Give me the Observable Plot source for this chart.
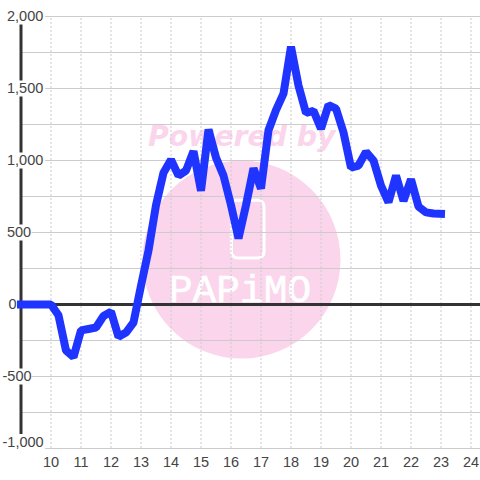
<!DOCTYPE html>
<html><head><meta charset="utf-8">
<style>html,body{margin:0;padding:0;background:#fff}svg{display:block}</style>
<script src="https://cdn.jsdelivr.net/npm/d3@7"></script>
<script src="https://cdn.jsdelivr.net/npm/@observablehq/plot@0.6"></script>
</head><body><div id="c"></div><script>
const hours=[9,9.25,9.5,9.75,10,10.25,10.5,10.75,11,11.25,11.5,11.75,12,12.25,12.5,12.75,13,13.25,13.5,13.75,14,14.25,14.5,14.75,15,15.25,15.5,15.75,16,16.25,16.5,16.75,17,17.25,17.5,17.75,18,18.25,18.5,18.75,19,19.25,19.5,19.75,20,20.25,20.5,20.75,21,21.25,21.5,21.75,22,22.25,22.5,22.75,23];
const values=[0,0,0,0,0,-75,-320,-365,-180,-170,-160,-80,-50,-225,-195,-125,130,375,690,915,1005,895,930,1065,790,1215,1020,895,690,460,690,945,805,1210,1350,1465,1790,1520,1330,1345,1220,1385,1360,1195,950,965,1060,1000,825,710,895,720,870,680,640,632,630];
const series=hours.map((h,i)=>({h,v:values[i]}));
const xTicks=[10,11,12,13,14,15,16,17,18,19,20,21,22,23,24];
const yLabelAt=[2000,1500,1000,500,0,-500,-955];
const yMajorText=["2,000","1,500","1,000","500","0","-500","-1,000"];
const yMajorStart=[8.533,8.533,8.533,8.533,8.583,8.383,8.383];
const yMajorEnd=[9.82,9.82,9.82,9.37,8.9,9.37,9.82];
const yGrid=[2000,1750,1500,1250,1000,750,500,250,-250,-500,-750,-1000];
const xLeft=8.3167, xRight=24.3167;
const labels=yLabelAt.map((y,i)=>({y,t:yMajorText[i],s:yMajorStart[i],e:yMajorEnd[i]}));
const circleAt=[{h:16.35,v:312}];
const phone=[{a:16.03,b:17.12,c:320,d:720}];
const pink="#fbd5ec", grey="#cccccc", dark="#333333", blue="#1f35ff";
const plot=Plot.plot({
  width:480,height:480,marginTop:16,marginBottom:32,marginLeft:20.5,marginRight:0,
  style:{background:"#fff",fontFamily:"'Liberation Sans',Arial,sans-serif"},
  x:{domain:[9,xRight],axis:null},y:{domain:[-1000,2000],axis:null},
  marks:[
    Plot.dot(circleAt,{x:"h",y:"v",r:99,fill:pink,stroke:"none"}),
    Plot.text(["Powered by"],{x:[16.36],y:[1165],text:d=>d,fill:pink,fontSize:28.3,fontWeight:"bold",fontStyle:"italic",fontFamily:"'DejaVu Sans'",stroke:"none"}),
    Plot.rect(phone,{x1:"a",x2:"b",y1:"c",y2:"d",fill:"none",stroke:"#fff",strokeWidth:3,rx:6}),
    Plot.text(["PAPiMO"],{x:[16.3],y:[104],text:d=>d,fill:"#fff",stroke:"#fff",strokeWidth:0.6,fontSize:39.5,fontFamily:"'Liberation Mono'"}),
    Plot.ruleX(xTicks,{stroke:grey,strokeDasharray:"2,2",strokeWidth:1,y1:-1000,y2:2000}),
    Plot.ruleY(yGrid,{stroke:grey,strokeWidth:1,x1:9,x2:xRight}),
    Plot.ruleX([9],{stroke:dark,strokeWidth:3,y1:-1000,y2:2000}),
    Plot.ruleY(labels,{y:"y",x1:xLeft,x2:"e",stroke:"#fff",strokeWidth:16}),
    Plot.ruleY([0],{stroke:dark,strokeWidth:3,x1:9,x2:xRight}),
    Plot.text(labels,{x:"s",y:"y",text:"t",textAnchor:"start",fill:"#444",fontSize:14.5}),
    Plot.axisX({ticks:xTicks,anchor:"bottom",tickSize:0,tickPadding:8,fontSize:14.5,color:"#444",label:null,tickFormat:d=>String(d)}),
    Plot.line(series,{x:"h",y:"v",stroke:blue,strokeWidth:8,strokeLinecap:"square",strokeLinejoin:"bevel",curve:"linear"})
  ]
});
document.getElementById("c").append(plot);
</script></body></html>
